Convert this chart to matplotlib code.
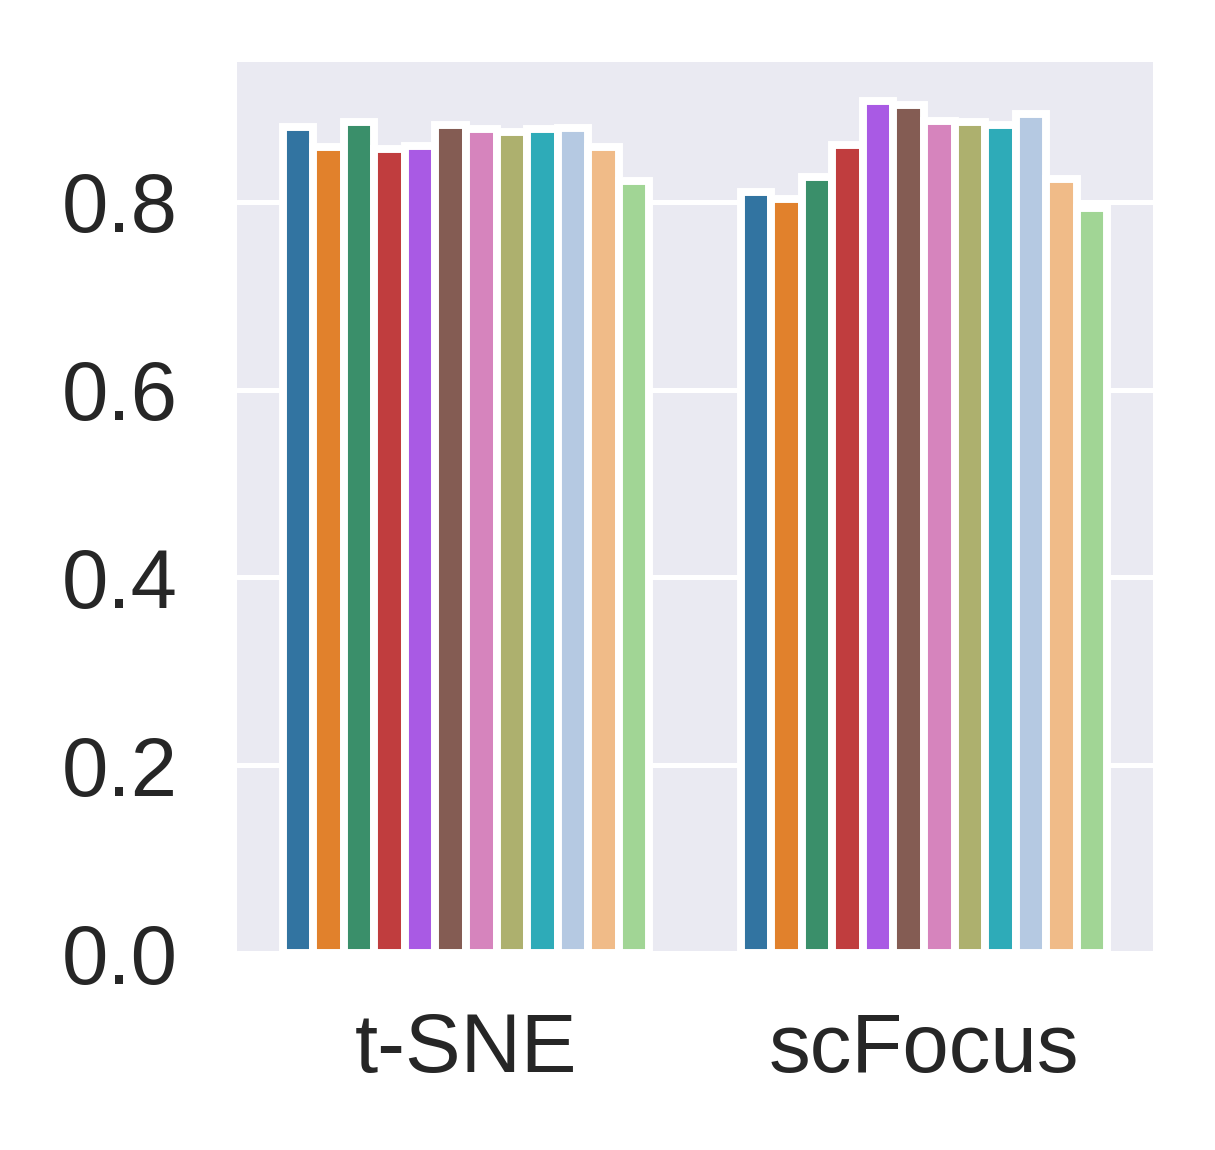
import matplotlib
matplotlib.use("Agg")
import matplotlib.pyplot as plt
import seaborn as sns
import pandas as pd

# data
groups = ["t-SNE", "scFocus"]
series = ["s1", "s2", "s3", "s4", "s5", "s6", "s7", "s8", "s9", "s10", "s11", "s12"]
tsne_vals = [0.880, 0.858, 0.885, 0.856, 0.859, 0.882, 0.878, 0.874, 0.878, 0.879, 0.858, 0.822]
scfocus_vals = [0.810, 0.803, 0.827, 0.861, 0.907, 0.903, 0.886, 0.885, 0.882, 0.894, 0.824, 0.794]
colors = ["#3274a1", "#e1812c", "#3a8f6a", "#c03d3e", "#a95ae4", "#845c53",
          "#d684bd", "#adb06e", "#2eabb8", "#b5c9e2", "#f0bb88", "#a1d595"]

df = pd.DataFrame({
    "group": [g for g in groups for _ in series],
    "series": series * 2,
    "value": tsne_vals + scfocus_vals,
})

sns.set_style("darkgrid")
plt.rcParams["font.family"] = ["Liberation Sans", "DejaVu Sans"]

fig = plt.figure(figsize=(4.05, 3.8334), dpi=300)
ax = fig.add_axes([237 / 1215, 1 - 953 / 1150, 916 / 1215, 891 / 1150])

sns.barplot(data=df, x="group", y="value", hue="series", palette=colors,
            saturation=1, edgecolor="white", linewidth=1.9, legend=False, ax=ax)

ax.set_ylim(0, 0.949)
ax.set_xlim(-0.5, 1.5)
ax.set_yticks([0.0, 0.2, 0.4, 0.6, 0.8])
ax.set_xlabel("")
ax.set_ylabel("")
ax.xaxis.grid(False)
ax.yaxis.grid(True, color="white", linewidth=1.2)
ax.tick_params(axis="both", labelsize=20, colors="#262626", length=0)
ax.tick_params(axis="y", pad=14.3)
ax.tick_params(axis="x", pad=14)
for s in ax.spines.values():
    s.set_visible(False)

fig.savefig("out.png", dpi=300)
